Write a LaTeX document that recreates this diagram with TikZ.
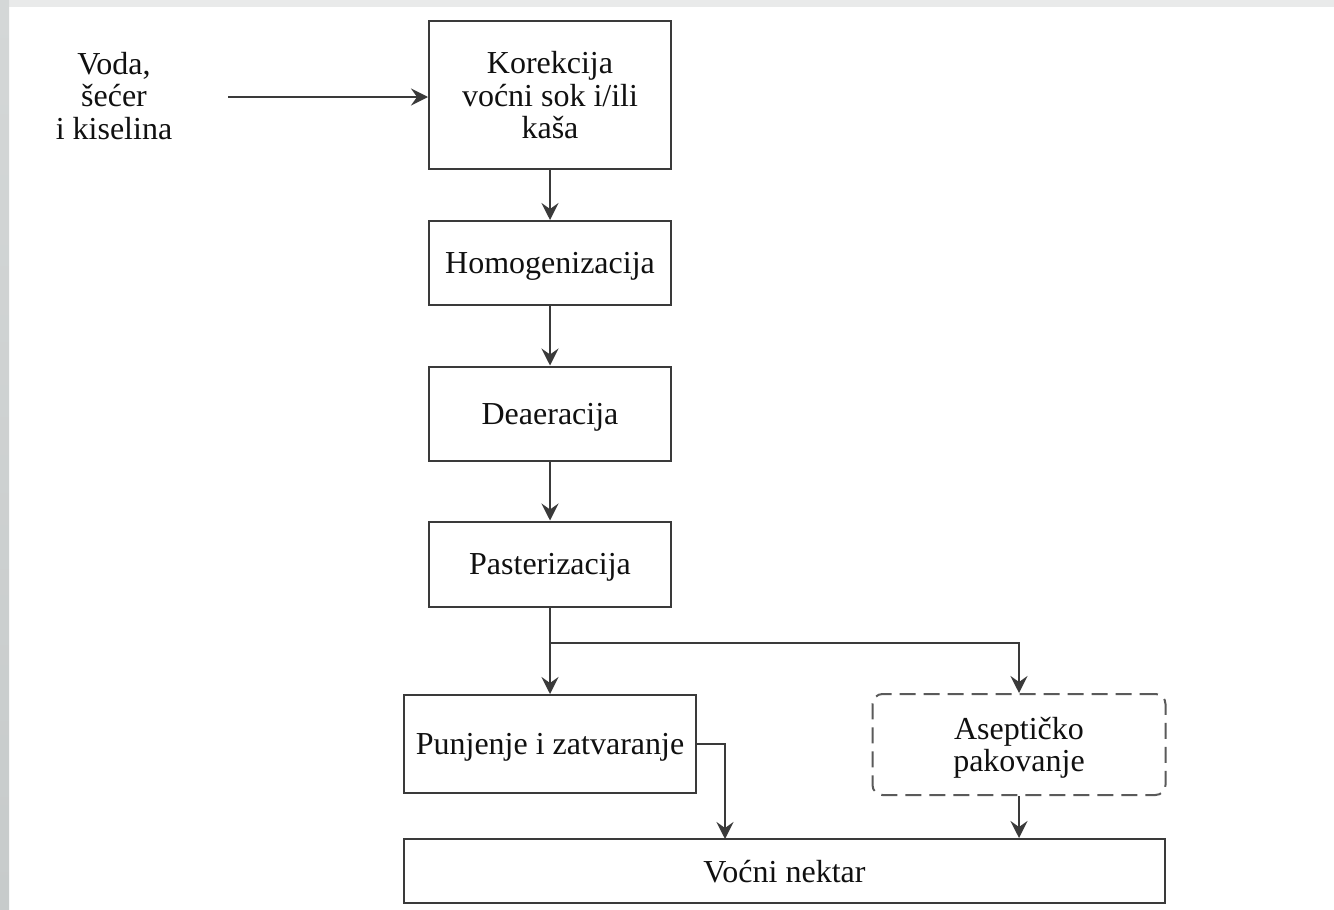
\documentclass[tikz,border=0pt]{standalone}
\usepackage{fontspec}
\setmainfont{Liberation Serif}
\usetikzlibrary{arrows.meta}
\definecolor{boxc}{HTML}{3A3A3A}
\definecolor{dashc}{HTML}{5A5A5A}
\definecolor{bgtop}{HTML}{E9EAEA}
\definecolor{bgleftA}{HTML}{D4D7D7}
\definecolor{bgleftB}{HTML}{C7CBCB}
\definecolor{textc}{HTML}{101010}
\begin{document}
\begin{tikzpicture}[x=1pt,y=-1pt,
  txt/.style={font=\fontsize{32}{32.5}\selectfont, text=textc, align=center, inner sep=0pt},
  box/.style={txt, draw=boxc, line width=2pt, fill=white, text depth=0pt},
  dbox/.style={txt, draw=dashc, line width=2pt, fill=white, text depth=0pt, dash pattern=on 16pt off 8pt, rounded corners=10pt},
  arr/.style={draw=boxc, line width=2pt, -{Stealth[length=17pt,width=17pt,inset=6pt]}},
  ln/.style={draw=boxc, line width=2pt}
]
\useasboundingbox (0,0) rectangle (1334,910);
\fill[white] (0,0) rectangle (1334,910);
\fill[bgtop] (0,0) rectangle (1334,7);
\shade[top color=bgleftA, bottom color=bgleftB] (0,0) rectangle (9,910);

\node[txt] (voda) at (114,96) {Voda,\\šećer\\i kiselina};
\coordinate (src) at (228,97);

\node[box, minimum width=242pt, minimum height=148pt] (kor) at (550,95) {Korekcija\\voćni sok i/ili\\kaša};
\node[box, minimum width=242pt, minimum height=84pt] (hom) at (550,263) {Homogenizacija};
\node[box, minimum width=242pt, minimum height=94pt] (dea) at (550,413.5) {Deaeracija};
\node[box, minimum width=242pt, minimum height=85pt] (pas) at (550,564) {Pasterizacija};
\node[box, minimum width=292pt, minimum height=98pt] (pun) at (550,744) {Punjenje i zatvaranje};
\node[dbox, minimum width=293pt, minimum height=101pt] (ase) at (1019,744.5) {Aseptičko\\pakovanje};
\node[box, minimum width=761pt, minimum height=64pt] (nek) at (784.5,871) {Voćni nektar};

\draw[arr] (src) -- (src -| kor.west);
\draw[arr] (kor.south) -- (hom.north);
\draw[arr] (hom.south) -- (dea.north);
\draw[arr] (dea.south) -- (pas.north);
\draw[arr] (pas.south) -- (pun.north);
\coordinate (br) at (550,643);
\draw[arr] (br) -| (ase.north);
\coordinate (nk1) at (725,839);
\draw[arr] (pun.east) -| (nk1);
\draw[arr] (ase.south) -- (ase.south |- nek.north);
\end{tikzpicture}
\end{document}
